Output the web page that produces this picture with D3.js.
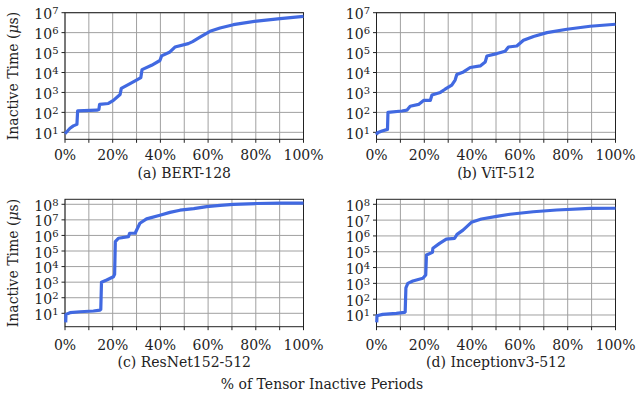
<!DOCTYPE html>
<html>
<head>
<meta charset="utf-8">
<script src="https://cdn.jsdelivr.net/npm/d3@7"></script>
<style>
body { margin: 0; background: #fff; }
text { font-family: "DejaVu Serif", serif; fill: #222; }
</style>
</head>
<body>
<div id="canvas"></div>
<script>
// ----------------------------------------------------------
// DATA -----------------------------------------------------
// ----------------------------------------------------------
var panel_labels = ["(a) BERT-128", "(b) ViT-512", "(c) ResNet152-512", "(d) Inceptionv3-512"];
var x_tick_labels = [0, 20, 40, 60, 80, 100];
var x_tick_grid = [0, 10, 20, 30, 40, 50, 60, 70, 80, 90, 100];
var y_exp_top = [1, 2, 3, 4, 5, 6, 7];
var y_exp_bottom = [1, 2, 3, 4, 5, 6, 7, 8];

// % of tensor inactive periods / inactive time in us
var pct_bert = [0, 2.1, 3.5, 5.0, 5.3, 13.3, 14.2, 14.5, 18.2, 20.3, 23.1, 23.6, 27.3, 30.7, 31.8, 32.3, 36.3, 39.8, 40.5, 44.0, 46.1, 51.7, 53.5, 56.6, 60.8, 65.0, 70.6, 80.4, 90.2, 100];
var time_bert = [8.5, 16, 21, 25, 120, 129, 141, 250, 280, 400, 790, 1600, 2800, 4700, 5600, 14000, 23000, 40000, 68000, 107000, 190000, 280000, 355000, 600000, 1170000, 1700000, 2500000, 3800000, 5000000, 6500000];

var pct_vit = [0, 0.4, 2.3, 4.6, 4.8, 10.6, 12.7, 14.1, 17.6, 19.7, 22.5, 23.2, 26.7, 28.7, 31.5, 32.9, 33.6, 36.4, 39.2, 43.4, 45.5, 46.2, 50.4, 53.8, 55.2, 58.7, 61.5, 65.7, 71.3, 79.7, 89.4, 100];
var time_vit = [7.6, 9.5, 11.7, 14, 100, 117, 129, 204, 251, 398, 398, 741, 1000, 1450, 2340, 4170, 7940, 10700, 17800, 21400, 33900, 67600, 89100, 117000, 191000, 214000, 417000, 646000, 1000000, 1480000, 2090000, 2630000];

var pct_resnet = [0.3, 0.4, 2.1, 6.3, 11.9, 14.7, 15.0, 15.3, 17.5, 20.3, 20.8, 21.1, 22.4, 26.6, 27.1, 29.4, 31.4, 34.2, 39.8, 44, 48.2, 54, 59.4, 65, 70.6, 80.4, 90.2, 100];
var time_resnet = [2.6, 8.5, 11, 12.6, 14.1, 16.2, 17.8, 1000, 1380, 2240, 3160, 398000, 660000, 832000, 1380000, 1380000, 6030000, 11500000, 20000000, 30200000, 41700000, 52500000, 70800000, 85100000, 100000000, 112000000, 117000000, 117000000];

var pct_inception = [0.1, 0.2, 2.6, 8.3, 11.7, 12.0, 12.3, 13.1, 15.2, 19.4, 20.6, 20.9, 23.4, 23.6, 26.4, 29.2, 32.7, 33.7, 36.2, 39.7, 43.9, 50.9, 55.8, 65.6, 75.4, 89.4, 100];
var time_inception = [3.4, 8.9, 11, 12.6, 14.5, 15.8, 525, 1000, 1410, 2090, 3390, 61700, 91200, 166000, 339000, 631000, 708000, 1260000, 2340000, 7240000, 11700000, 17800000, 23400000, 33900000, 43700000, 55000000, 56200000];

// ----------------------------------------------------------
// LAYOUT ---------------------------------------------------
// ----------------------------------------------------------
var color_line = "#4169e1";
var color_grid = "#a0a0a0";
var color_axis = "#222";

var panels = [
  {label: panel_labels[0], pct: pct_bert, time: time_bert, exps: y_exp_top, dom: [Math.pow(10, 0.65), 1e7],
   x0: 65, x1: 303.5, y0: 12.7, y1: 139.3, tick_y: 159.5, cap_y: 178.2, ylabel: true},
  {label: panel_labels[1], pct: pct_vit, time: time_vit, exps: y_exp_top, dom: [Math.pow(10, 0.65), 1e7],
   x0: 376.5, x1: 615.5, y0: 12.7, y1: 139.3, tick_y: 159.5, cap_y: 178.2, ylabel: false},
  {label: panel_labels[2], pct: pct_resnet, time: time_resnet, exps: y_exp_bottom, dom: [Math.pow(10, 0.14), Math.pow(10, 8.32)],
   x0: 65, x1: 303.5, y0: 199.3, y1: 326.7, tick_y: 349.5, cap_y: 366.5, ylabel: true},
  {label: panel_labels[3], pct: pct_inception, time: time_inception, exps: y_exp_bottom, dom: [Math.pow(10, 0.26), Math.pow(10, 8.316)],
   x0: 376.5, x1: 615.5, y0: 199.3, y1: 326.7, tick_y: 349.5, cap_y: 366.5, ylabel: false}
];

var svg = d3.select("#canvas").append("svg")
  .attr("width", 637)
  .attr("height", 398)
  .style("background-color", "#fff");

// ----------------------------------------------------------
// PANELS ---------------------------------------------------
// ----------------------------------------------------------
panels.forEach(function(p) {
  var x = d3.scaleLinear().domain([0, 100]).range([p.x0, p.x1]);
  var y = d3.scaleLog().domain(p.dom).range([p.y1, p.y0]);
  var g = svg.append("g").attr("class", "panel");

  // grid
  g.selectAll(".vgrid").data(x_tick_grid).enter().append("line")
    .attr("x1", function(d) { return x(d); }).attr("x2", function(d) { return x(d); })
    .attr("y1", p.y0).attr("y2", p.y1)
    .style("stroke", color_grid).style("stroke-width", 1);
  g.selectAll(".hgrid").data(p.exps).enter().append("line")
    .attr("x1", p.x0).attr("x2", p.x1)
    .attr("y1", function(d) { return y(Math.pow(10, d)); })
    .attr("y2", function(d) { return y(Math.pow(10, d)); })
    .style("stroke", color_grid).style("stroke-width", 1);

  // frame
  g.append("rect")
    .attr("x", p.x0).attr("y", p.y0)
    .attr("width", p.x1 - p.x0).attr("height", p.y1 - p.y0)
    .style("fill", "none").style("stroke", color_axis).style("stroke-width", 1);

  // tick marks
  g.selectAll(".xtick").data(x_tick_grid).enter().append("line")
    .attr("x1", function(d) { return x(d); }).attr("x2", function(d) { return x(d); })
    .attr("y1", p.y1).attr("y2", p.y1 + 3.5)
    .style("stroke", color_axis).style("stroke-width", 1);
  g.selectAll(".ytick").data(p.exps).enter().append("line")
    .attr("x1", p.x0 - 3.5).attr("x2", p.x0)
    .attr("y1", function(d) { return y(Math.pow(10, d)); })
    .attr("y2", function(d) { return y(Math.pow(10, d)); })
    .style("stroke", color_axis).style("stroke-width", 1);

  // x tick labels
  g.selectAll(".xlab").data(x_tick_labels).enter().append("text")
    .attr("x", function(d) { return x(d); })
    .attr("y", p.tick_y)
    .attr("text-anchor", "middle")
    .style("font-size", "14px")
    .text(function(d) { return d + "%"; });

  // y tick labels 10^n
  var yl = g.selectAll(".ylab").data(p.exps).enter().append("text")
    .attr("x", p.x0 - 6.5)
    .attr("y", function(d) { return y(Math.pow(10, d)) + 6.5; })
    .attr("text-anchor", "end")
    .style("font-size", "14px");
  yl.append("tspan").text("10");
  yl.append("tspan").attr("dy", -5).style("font-size", "10px").text(function(d) { return d; });

  // curve
  var pts = p.pct.map(function(v, i) { return [v, p.time[i]]; });
  var line = d3.line()
    .x(function(d) { return x(d[0]); })
    .y(function(d) { return y(d[1]); });
  g.append("path")
    .datum(pts)
    .attr("d", line)
    .style("fill", "none")
    .style("stroke", color_line)
    .style("stroke-width", 3.2)
    .style("stroke-linejoin", "round")
    .style("stroke-linecap", "butt");

  // caption
  g.append("text")
    .attr("x", (p.x0 + p.x1) / 2)
    .attr("y", p.cap_y)
    .attr("text-anchor", "middle")
    .style("font-size", "14px")
    .text(p.label);

  // y axis title
  if (p.ylabel) {
    var t = g.append("text")
      .attr("transform", "translate(18," + ((p.y0 + p.y1) / 2) + ") rotate(-90)")
      .attr("text-anchor", "middle")
      .style("font-size", "14px");
    t.append("tspan").text("Inactive Time (");
    t.append("tspan").style("font-style", "italic").text("\u03bc");
    t.append("tspan").text("s)");
  }
});

// shared x title
svg.append("text")
  .attr("x", 322)
  .attr("y", 388.5)
  .attr("text-anchor", "middle")
  .style("font-size", "14px")
  .text("% of Tensor Inactive Periods");
</script>
</body>
</html>
